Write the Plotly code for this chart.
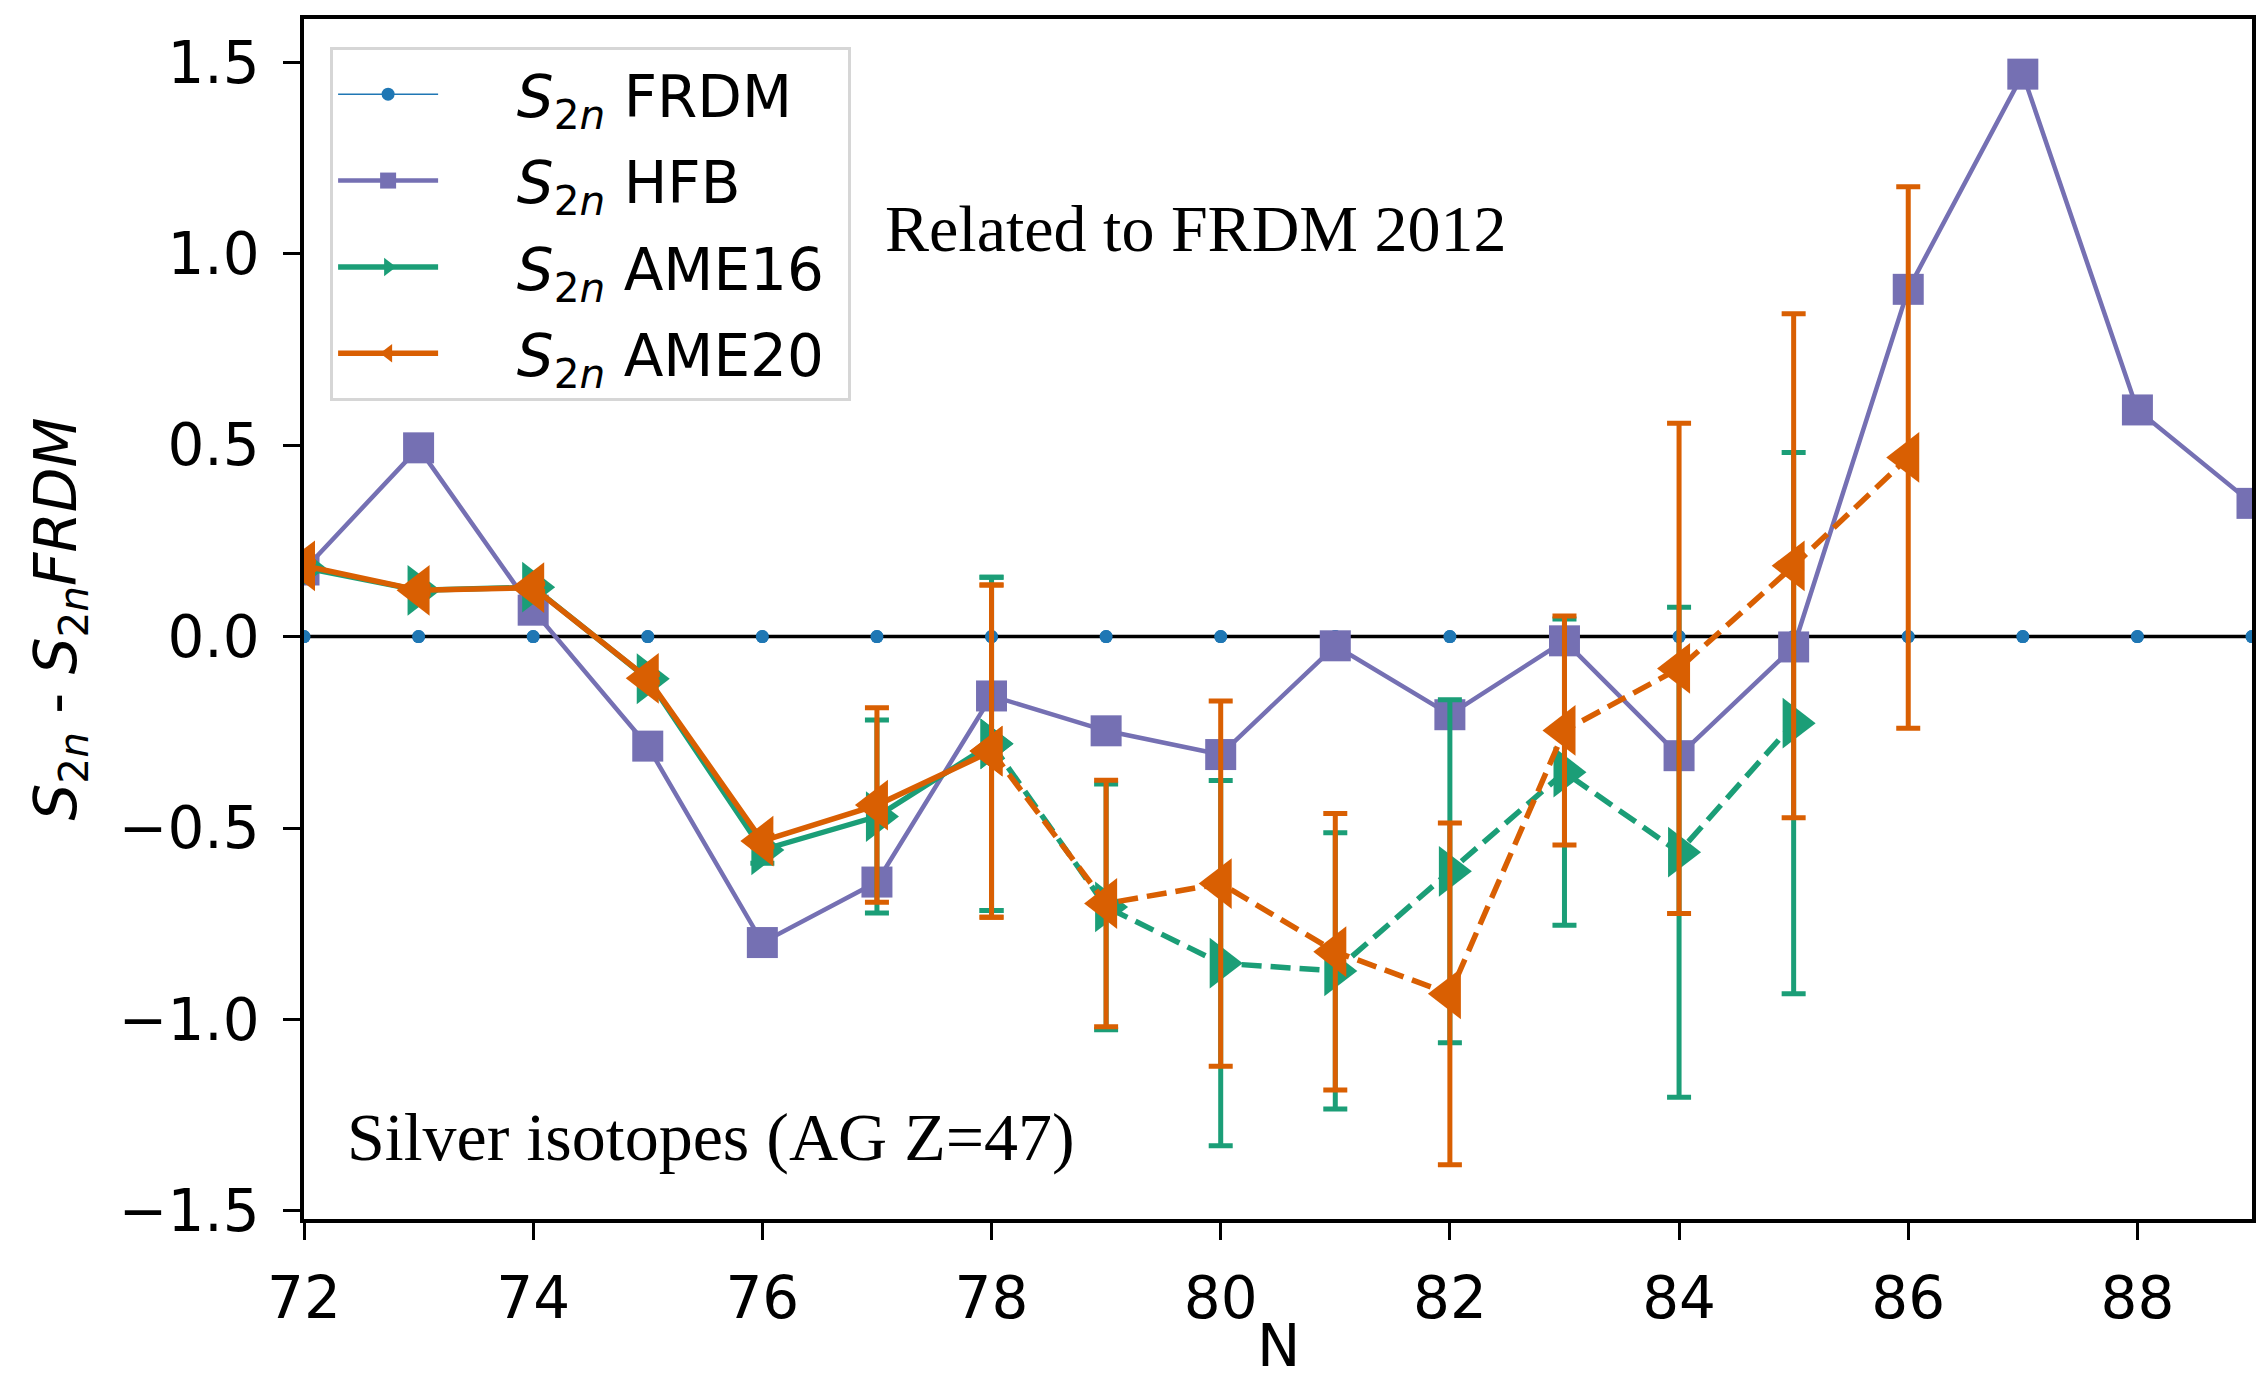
import plotly.graph_objects as go

# ---------------- data ----------------
N = list(range(72, 90))
frdm = [0.0] * len(N)
hfb = [0.174, 0.493, 0.069, -0.286, -0.799, -0.641, -0.155, -0.246, -0.308,
       -0.024, -0.204, -0.011, -0.311, -0.027, 0.907, 1.469, 0.592, 0.348]

N_ame16 = list(range(72, 86))
ame16 = [0.180, 0.121, 0.129, -0.110, -0.557, -0.470, -0.280, -0.706, -0.853,
         -0.873, -0.613, -0.354, -0.563, -0.226]
ame16_err = [0.01, 0.01, 0.01, 0.01, 0.035, 0.252, 0.435, 0.321, 0.477,
             0.361, 0.448, 0.400, 0.640, 0.707]

N_ame20 = list(range(72, 87))
ame20 = [0.185, 0.121, 0.128, -0.109, -0.534, -0.440, -0.299, -0.697, -0.645,
         -0.823, -0.933, -0.245, -0.083, 0.185, 0.468]
ame20_err = [0.01, 0.01, 0.01, 0.01, 0.015, 0.254, 0.434, 0.322, 0.477,
             0.361, 0.446, 0.299, 0.640, 0.658, 0.707]

split = 6  # index of N=78: solid before, dashed after

x_ticks = list(range(72, 89, 2))
x_range = [72, 89]
y_range = [-1.521, 1.613]

C_FRDM = "#1f77b4"
C_HFB = "#7570b3"
C_16 = "#1b9e77"
C_20 = "#d95f02"

S2N = "<i>S</i><sub>2<i>n</i></sub>"
PAD = "\u00a0\u00a0\u00a0\u00a0"
TAIL = "\u00a0"

fig = go.Figure()

# FRDM (legend entry, line + markers)
fig.add_trace(go.Scatter(
    x=N, y=frdm, mode="lines+markers", name=PAD + S2N + " FRDM" + TAIL,
    legendgroup="frdm",
    line=dict(color=C_FRDM, width=1.5),
    marker=dict(color=C_FRDM, size=13, line=dict(width=0)),
))
# zero reference line
fig.add_trace(go.Scatter(
    x=[N[0], N[-1]], y=[frdm[0], frdm[-1]], mode="lines",
    legendgroup="frdm", showlegend=False, hoverinfo="skip",
    line=dict(color="black", width=3.5),
))
fig.add_trace(go.Scatter(
    x=N, y=frdm, mode="markers", legendgroup="frdm", showlegend=False,
    marker=dict(color=C_FRDM, size=13, line=dict(width=0)),
))

# HFB
fig.add_trace(go.Scatter(
    x=N, y=hfb, mode="lines+markers", name=PAD + S2N + " HFB" + TAIL,
    legendgroup="hfb",
    line=dict(color=C_HFB, width=4.5),
    marker=dict(color=C_HFB, symbol="square", size=31, line=dict(width=0)),
))


def add_ame(xs, ys, errs, color, symbol, name, group):
    for part, dash, show in ((slice(0, split + 1), "solid", True),
                             (slice(split, None), "20px,9px", False)):
        fig.add_trace(go.Scatter(
            x=xs[part], y=ys[part], mode="lines+markers",
            name=name, legendgroup=group, showlegend=show,
            line=dict(color=color, width=5.5, dash=dash),
            marker=dict(color=color, symbol=symbol, size=44, line=dict(width=0)),
            error_y=dict(type="data", array=errs[part], visible=True,
                         color=color, thickness=5, width=12),
        ))


add_ame(N_ame16, ame16, ame16_err, C_16, "triangle-right",
        PAD + S2N + " AME16" + TAIL, "ame16")
add_ame(N_ame20, ame20, ame20_err, C_20, "triangle-left",
        PAD + S2N + " AME20" + TAIL, "ame20")

fig.add_annotation(
    text="Related to FRDM 2012", xref="paper", yref="paper",
    x=0.297, y=0.8257, xanchor="left", yanchor="middle", showarrow=False,
    font=dict(family="Liberation Serif", size=66, color="black"),
)
fig.add_annotation(
    text="Silver isotopes (AG Z=47)", xref="paper", yref="paper",
    x=0.0213, y=0.0683, xanchor="left", yanchor="middle", showarrow=False,
    font=dict(family="Liberation Serif", size=68, color="black"),
)
# x-axis title
fig.add_annotation(
    text="N", xref="paper", yref="paper",
    x=0.5, y=-0.106, xanchor="center", yanchor="middle", showarrow=False,
    font=dict(family="DejaVu Sans", size=58, color="black"),
)

axis_common = dict(
    showline=True, linecolor="black", linewidth=3.5, mirror=True,
    ticks="outside", ticklen=17, tickwidth=3, tickcolor="black",
    showgrid=False, zeroline=False, automargin=False,
    tickfont=dict(family="DejaVu Sans", size=58, color="black"),
)

fig.update_layout(
    width=2258, height=1384,
    margin=dict(l=304, r=6, t=19, b=165),
    paper_bgcolor="white", plot_bgcolor="white",
    font=dict(family="DejaVu Sans", color="black"),
    xaxis=dict(range=x_range, tickvals=x_ticks, ticklabelstandoff=9,
               **axis_common),
    yaxis=dict(range=y_range, dtick=0.5, tick0=0, tickformat=".1f",
               ticklabelstandoff=12,
               title=dict(text=S2N + " - " + S2N + "<i>FRDM</i>", standoff=25,
                          font=dict(family="DejaVu Sans", size=58)),
               **axis_common),
    legend=dict(
        x=0.0134, y=0.9767, xanchor="left", yanchor="top",
        bgcolor="rgba(255,255,255,0.8)", bordercolor="#d6d6d6", borderwidth=3,
        font=dict(family="DejaVu Sans", size=58, color="black"),
        tracegroupgap=8, itemwidth=100, traceorder="grouped",
    ),
    showlegend=True,
)

fig.write_html("out.html")
